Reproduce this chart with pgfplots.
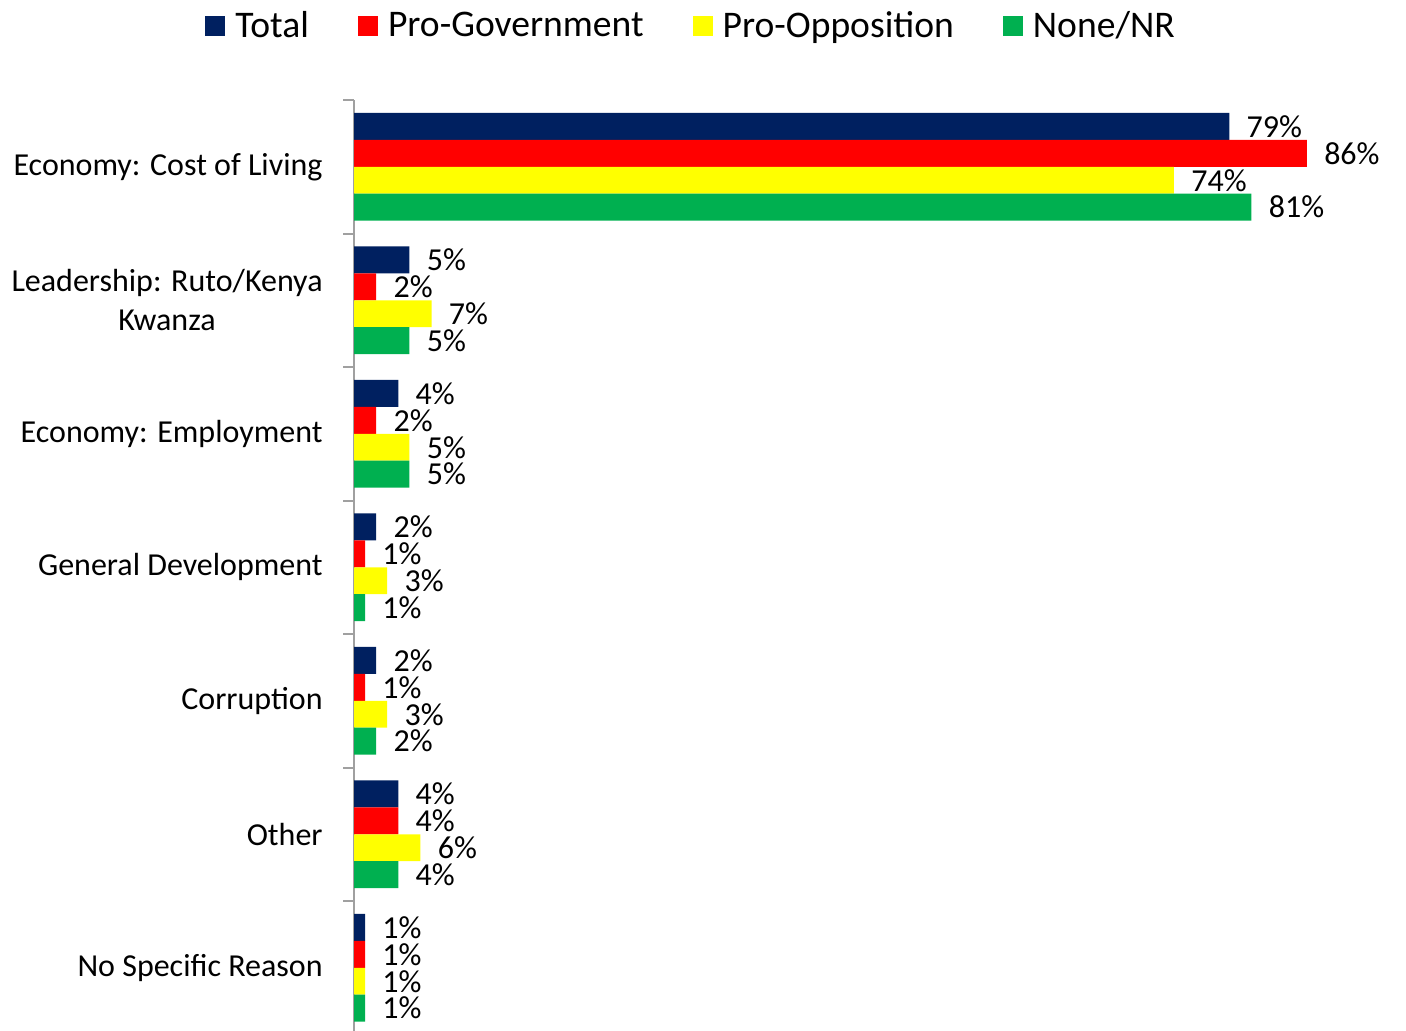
\documentclass[border=0pt]{standalone}
\usepackage{pgfplots}
\pgfplotsset{compat=1.18}
\usepackage{fontspec}
\setmainfont{Carlito}
\definecolor{cTotal}{RGB}{0,32,96}
\definecolor{cGov}{RGB}{255,0,0}
\definecolor{cOpp}{RGB}{255,255,0}
\definecolor{cNone}{RGB}{0,176,80}
\definecolor{axgray}{RGB}{160,160,160}
\begin{document}
\begin{tikzpicture}
\begin{axis}[
  at={(177pt,-1.75pt)}, anchor=south west,
  scale only axis, width=498.6pt, height=467.25pt,
  xmin=0, xmax=90, ymin=-0.5, ymax=6.5, y dir=reverse,
  xbar, bar width=0.202,
  clip=false,
  axis x line=none,
  axis y line=left,
  y axis line style={-, draw=axgray, line width=1pt},
  ytick={0,1,2,3,4,5,6},
  yticklabels={Economy: Cost of Living, {Leadership: Ruto/Kenya\\Kwanza}, Economy: Employment, General Development, Corruption, Other, No Specific Reason},
  major tick length=0pt,
  yticklabel style={font=\fontsize{16}{19.5}\selectfont, align=center, anchor=east, inner sep=0pt, xshift=-15.5pt},
  extra y ticks={-0.5,0.5,1.5,2.5,3.5,4.5,5.5},
  extra y tick labels={},
  extra y tick style={major tick length=5.5pt, tick align=outside, tick style={draw=axgray, line width=1pt}},
  /pgf/number format/assume math mode=true,
  nodes near coords={\pgfmathprintnumber[fixed,precision=0,assume math mode=true]{\pgfplotspointmeta}\%},
  every node near coord/.append style={font=\fontsize{16}{19.5}\selectfont, anchor=west, inner sep=0pt, xshift=8.5pt, text=black},
  legend columns=4,
  legend style={at={(axis description cs:-0.1494,1.0790)}, anchor=west, draw=none, fill=none,
    font=\fontsize{18.8}{22}\selectfont, inner xsep=0pt, inner ysep=0pt,
    nodes={inner xsep=0pt},
    /tikz/every odd column/.append style={column sep=5pt},
    /tikz/every even column/.append style={column sep=24.5pt}},
  legend image code/.code={\fill[#1] (0pt,-5pt) rectangle (10pt,5pt);},
]
\addplot[fill=cTotal, draw=none, bar shift=-0.303] coordinates {(79,0) (5,1) (4,2) (2,3) (2,4) (4,5) (1,6)};
\addplot[fill=cGov, draw=none, bar shift=-0.101] coordinates {(86,0) (2,1) (2,2) (1,3) (1,4) (4,5) (1,6)};
\addplot[fill=cOpp, draw=none, bar shift=0.101] coordinates {(74,0) (7,1) (5,2) (3,3) (3,4) (6,5) (1,6)};
\addplot[fill=cNone, draw=none, bar shift=0.303] coordinates {(81,0) (5,1) (5,2) (1,3) (2,4) (4,5) (1,6)};
\legend{Total, Pro-Government, Pro-Opposition, None/NR}
\end{axis}
\pgfresetboundingbox
\useasboundingbox (0,0) rectangle (703pt,515.5pt);
\end{tikzpicture}
\end{document}
